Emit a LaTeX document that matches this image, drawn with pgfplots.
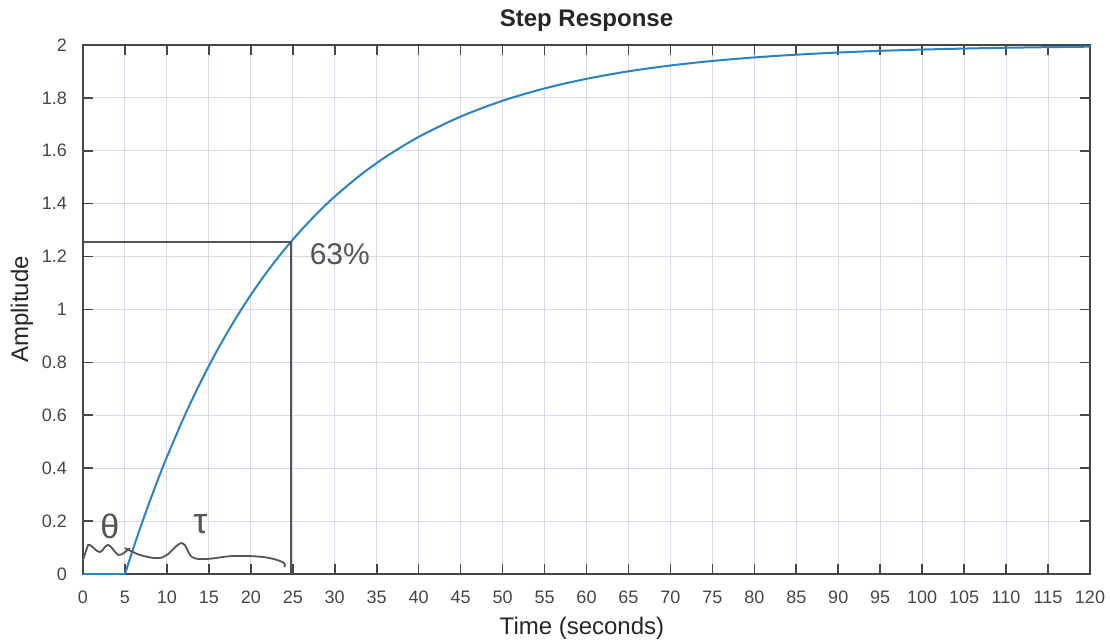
\documentclass[border=0pt]{standalone}
\usepackage{fontspec}
\setmainfont{Liberation Sans}
\usepackage{pgfplots}
\pgfplotsset{compat=1.18}
\definecolor{mblue}{RGB}{40,130,200}
\definecolor{gridc}{RGB}{218,218,236}
\definecolor{axc}{RGB}{70,70,70}
\definecolor{pen}{RGB}{85,85,85}
\begin{document}
\begin{tikzpicture}
\useasboundingbox (-41.5pt,-33.5pt) rectangle (513.5pt,287pt);
\begin{axis}[
 scale only axis, width=503.5pt, height=264.5pt,
 xmin=0,xmax=120,ymin=0,ymax=2,
 xtick={0,5,...,120}, ytick={0,0.2,0.4,0.6,0.8,1,1.2,1.4,1.6,1.8,2},
 grid=major, major grid style={gridc, line width=0.5pt},
 tick align=inside, major tick length=5pt,
 axis line style={axc, line width=0.8pt},
 tick style={axc, line width=0.8pt},
 ticklabel style={font=\fontsize{9}{10}\selectfont, text=axc},
 /pgf/number format/assume math mode=true,
 xticklabel style={yshift=-5pt},
 yticklabel style={xshift=-4.5pt},
 title={\textbf{Step Response}},
 every axis title/.style={at={(axis description cs:0.5,1.047)}, anchor=center, font=\fontsize{12}{14}\selectfont, text=black!85},
 xlabel={Time (seconds)}, ylabel={Amplitude},
 every axis x label/.style={at={(axis description cs:0.4955,-0.102)}, anchor=center, font=\fontsize{12}{14}\selectfont, text=black!85},
 every axis y label/.style={at={(axis description cs:-0.0606,0.5)}, rotate=90, anchor=center, font=\fontsize{12}{14}\selectfont, text=black!85},
 clip=false
]
\addplot[mblue, line width=1pt] coordinates {(0,0)(5,0)};
\addplot[mblue, line width=1pt, smooth, tension=0.5] coordinates {
(5,0)(6,0.0975)(7,0.1903)(8,0.2786)(9,0.3625)(10,0.4424)(12,0.5906)(14,0.7247)(16,0.8461)(18,0.9559)(20,1.0553)(22,1.1452)(24,1.2265)(26,1.2999)(28,1.3667)(30,1.4270)(33,1.5068)(36,1.5755)(40,1.6525)(45,1.7293)(50,1.7892)(55,1.8358)(60,1.8721)(65,1.9004)(70,1.9225)(75,1.9396)(80,1.9530)(85,1.9634)(90,1.9715)(95,1.9778)(100,1.9827)(105,1.9865)(110,1.9895)(115,1.9918)(120,1.9936)
};
\addplot[pen, line width=1pt] coordinates {(0,1.255)(24.8,1.255)(24.8,0)};
\addplot[pen, line width=0.9pt, smooth, tension=0.6] coordinates {
(0,0.053)(0.5,0.10)(0.8,0.11)(2,0.083)(3,0.11)(4.2,0.072)(5,0.083)(5.6,0.098)};
\addplot[pen, line width=0.9pt, smooth, tension=0.6] coordinates {
(5,0.098)(6.8,0.072)(8.8,0.06)(10,0.072)(11.8,0.117)(13,0.064)(14.8,0.057)(17.9,0.068)(21.5,0.064)(23.8,0.045)(24,0.026)};
\node[pen, font=\fontsize{17}{17}\selectfont] at (axis cs:3.2,0.18) {θ};
\node[pen, font=\fontsize{18}{18}\selectfont] at (axis cs:14,0.19) {τ};
\node[pen, font=\fontsize{15}{15}\selectfont] at (axis cs:30.6,1.21) {63\%};
\end{axis}
\end{tikzpicture}
\end{document}
